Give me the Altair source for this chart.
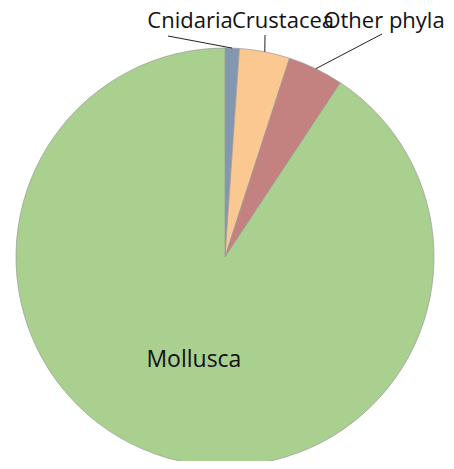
import math
import altair as alt
import pandas as pd

# Data
categories = ["Cnidaria", "Crustacea", "Other phyla", "Mollusca"]
values = [1.1, 3.9, 4.3, 90.7]
colors = ["#8497B0", "#FAC890", "#C3827F", "#A9D08E"]

# Layout (plot-area pixels)
W, H = 438, 453
CX, CY, R = 217, 249, 209
outer_labels = ["Cnidaria", "Crustacea", "Other phyla"]
label_pos = {"Cnidaria": (182, 20), "Crustacea": (275, 20), "Other phyla": (376, 20)}
leader_end = {"Cnidaria": (160, 28), "Crustacea": (257, 27), "Other phyla": (374, 26)}

df = pd.DataFrame({"cat": categories, "val": values, "idx": range(len(categories))})
total = sum(values)
cum = 0.0
mids = []
for v in values:
    mids.append((cum + v / 2) / total * 2 * math.pi)
    cum += v
df["mid"] = mids

# leader lines
rows = []
for c, m in zip(categories, mids):
    if c in outer_labels:
        ex, ey = leader_end[c]
        rows.append({"cat": c, "x": CX + R * math.sin(m), "y": CY - R * math.cos(m), "x2": ex, "y2": ey})
lines = pd.DataFrame(rows)

texts = pd.DataFrame([{"cat": c, "x": label_pos[c][0], "y": label_pos[c][1]} for c in outer_labels])
m_mid = mids[categories.index("Mollusca")]
inner = pd.DataFrame([{"cat": "Mollusca", "x": CX + 108 * math.sin(m_mid), "y": CY - 108 * math.cos(m_mid)}])

xs = alt.Scale(domain=[0, W], range=[0, W])
ys = alt.Scale(domain=[0, H], range=[0, H])

pie = alt.Chart(df).mark_arc(outerRadius=R, stroke="#999999", strokeWidth=0.7).encode(
    theta=alt.Theta("val:Q", stack=True),
    order=alt.Order("idx:Q"),
    color=alt.Color("cat:N", scale=alt.Scale(domain=categories, range=colors), legend=None),
    x=alt.value(CX),
    y=alt.value(CY),
)

rules = alt.Chart(lines).mark_rule(color="#222222", strokeWidth=1).encode(
    x=alt.X("x:Q", scale=xs, axis=None),
    y=alt.Y("y:Q", scale=ys, axis=None),
    x2="x2:Q",
    y2="y2:Q",
)

lbl = alt.Chart(texts).mark_text(font="Open Sans", fontSize=22, baseline="alphabetic", align="center", color="#111111").encode(
    x=alt.X("x:Q", scale=xs, axis=None),
    y=alt.Y("y:Q", scale=ys, axis=None),
    text="cat:N",
)

inl = alt.Chart(inner).mark_text(font="Open Sans", fontSize=23, baseline="middle", align="center", color="#111111").encode(
    x=alt.X("x:Q", scale=xs, axis=None),
    y=alt.Y("y:Q", scale=ys, axis=None),
    text="cat:N",
)

chart = alt.layer(pie, rules, lbl, inl).properties(
    width=W, height=H, padding=0, autosize="none"
).configure_view(stroke=None)

chart.save("out.html", embed_options={"renderer": "svg", "actions": False})
